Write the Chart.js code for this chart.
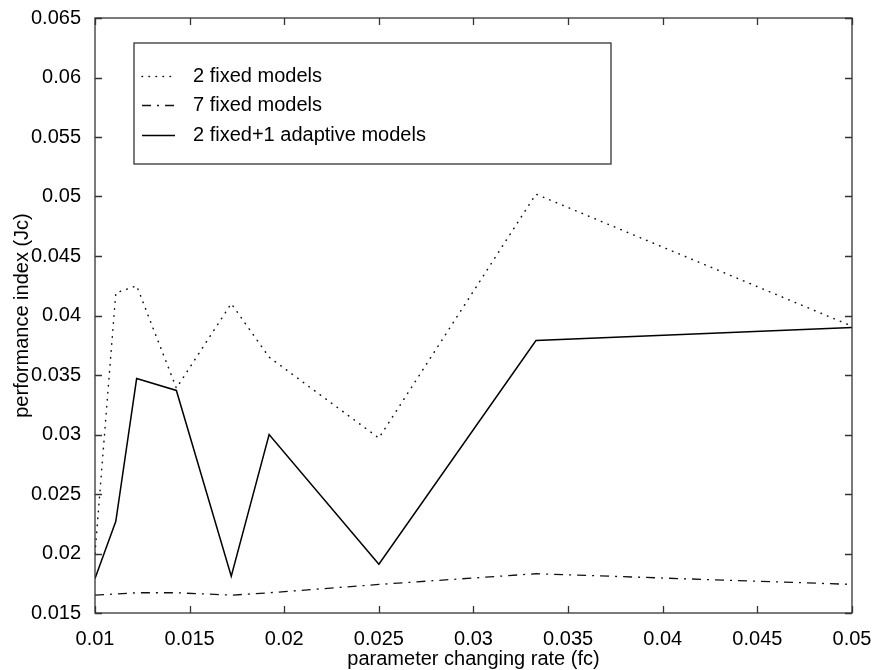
<!DOCTYPE html>
<html>
<head>
<meta charset="utf-8">
<script src="https://cdn.jsdelivr.net/npm/chart.js@4/dist/chart.umd.min.js"></script>
<style>
  html, body { margin: 0; padding: 0; background: #fff; }
  #wrap { width: 872px; height: 670px; }
</style>
</head>
<body>
<div id="wrap"><canvas id="c" width="872" height="670"></canvas></div>
<script>
// parameter changing rate (fc) at which each case was simulated
const rates = [0.01, 0.0111, 0.0122, 0.0143, 0.0172, 0.0192, 0.025, 0.0333, 0.05];

// performance index (Jc) per configuration
const twoFixed      = [0.0200, 0.0419, 0.0425, 0.0339, 0.0410, 0.0365, 0.0297, 0.0502, 0.0391];
const sevenFixed    = [0.0165, 0.0166, 0.0167, 0.0167, 0.0165, 0.0167, 0.0174, 0.0183, 0.0174];
const twoPlusAdapt  = [0.0179, 0.0227, 0.0347, 0.0337, 0.0181, 0.0300, 0.0191, 0.0379, 0.0390];

const seriesNames = ['2 fixed models', '7 fixed models', '2 fixed+1 adaptive models'];

// axis ticks
const xTicks = [0.01, 0.015, 0.02, 0.025, 0.03, 0.035, 0.04, 0.045, 0.05];
const yTicks = [0.015, 0.02, 0.025, 0.03, 0.035, 0.04, 0.045, 0.05, 0.055, 0.06, 0.065];

const FONT = "'Liberation Sans', Arial, Helvetica, sans-serif";
const pts = ys => rates.map((x, i) => ({ x, y: ys[i] }));
const fmt = v => String(Number(v.toFixed(3)));

// boxed frame with inward tick marks on all four sides
const framePlugin = {
  id: 'frame',
  afterDraw(chart) {
    const { ctx, chartArea: a, scales } = chart;
    const len = 7;
    ctx.save();
    ctx.strokeStyle = '#333';
    ctx.lineWidth = 1.3;
    ctx.strokeRect(a.left, a.top, a.right - a.left, a.bottom - a.top);
    ctx.beginPath();
    xTicks.forEach(v => {
      const px = Math.round(scales.x.getPixelForValue(v)) + 0.5;
      ctx.moveTo(px, a.bottom); ctx.lineTo(px, a.bottom - len);
      ctx.moveTo(px, a.top);    ctx.lineTo(px, a.top + len);
    });
    yTicks.forEach(v => {
      const py = Math.round(scales.y.getPixelForValue(v)) + 0.5;
      ctx.moveTo(a.left, py);  ctx.lineTo(a.left + len, py);
      ctx.moveTo(a.right, py); ctx.lineTo(a.right - len, py);
    });
    ctx.stroke();
    ctx.restore();
  }
};

// boxed legend in the upper left of the plot
const legendPlugin = {
  id: 'boxLegend',
  afterDraw(chart) {
    const { ctx } = chart;
    const box = { left: 134, top: 43, right: 611, bottom: 164 };
    const rowY = [76, 105, 135];
    ctx.save();
    ctx.fillStyle = '#fff';
    ctx.fillRect(box.left, box.top, box.right - box.left, box.bottom - box.top);
    ctx.strokeStyle = '#333';
    ctx.lineWidth = 1.3;
    ctx.strokeRect(box.left, box.top, box.right - box.left, box.bottom - box.top);
    chart.data.datasets.forEach((ds, i) => {
      const y = rowY[i] + 0.5;
      ctx.beginPath();
      ctx.setLineDash(ds.borderDash || []);
      ctx.lineCap = ds.borderCapStyle || 'butt';
      ctx.lineWidth = ds.borderWidth;
      ctx.strokeStyle = ds.borderColor;
      ctx.moveTo(142, y);
      ctx.lineTo(175, y);
      ctx.stroke();
      ctx.setLineDash([]);
      ctx.fillStyle = '#000';
      ctx.font = '20px ' + FONT;
      ctx.textBaseline = 'middle';
      ctx.textAlign = 'left';
      ctx.fillText(ds.label, 193, rowY[i]);
    });
    ctx.restore();
  }
};

new Chart(document.getElementById('c'), {
  type: 'line',
  data: {
    datasets: [
      {
        label: seriesNames[0],
        data: pts(twoFixed),
        borderColor: '#111',
        borderWidth: 1.5,
        borderDash: [0.5, 6.5],
        borderCapStyle: 'round',
        pointRadius: 0,
        tension: 0
      },
      {
        label: seriesNames[1],
        data: pts(sevenFixed),
        borderColor: '#111',
        borderWidth: 1.3,
        borderDash: [9, 6, 2, 6],
        pointRadius: 0,
        tension: 0
      },
      {
        label: seriesNames[2],
        data: pts(twoPlusAdapt),
        borderColor: '#000',
        borderWidth: 1.5,
        pointRadius: 0,
        tension: 0
      }
    ]
  },
  options: {
    responsive: false,
    animation: false,
    events: [],
    layout: { padding: { top: 18, right: 20, left: 0, bottom: 0 } },
    plugins: {
      legend: { display: false },
      tooltip: { enabled: false }
    },
    scales: {
      x: {
        type: 'linear',
        min: 0.01,
        max: 0.05,
        grid: { display: false },
        border: { display: false },
        afterBuildTicks: s => { s.ticks = xTicks.map(v => ({ value: v })); },
        afterFit: s => { s.height = 57; s.paddingLeft = 0; s.paddingRight = 0; },
        ticks: {
          color: '#000',
          font: { family: FONT, size: 20 },
          padding: 6,
          maxRotation: 0,
          autoSkip: false,
          callback: v => fmt(v)
        },
        title: {
          display: true,
          text: 'parameter changing rate (fc)',
          color: '#000',
          font: { family: FONT, size: 20, lineHeight: 1 },
          padding: { top: 0, bottom: 1 }
        }
      },
      y: {
        type: 'linear',
        min: 0.015,
        max: 0.065,
        grid: { display: false },
        border: { display: false },
        afterBuildTicks: s => { s.ticks = yTicks.map(v => ({ value: v })); },
        afterFit: s => { s.width = 95; s.paddingTop = 0; s.paddingBottom = 0; },
        ticks: {
          color: '#000',
          font: { family: FONT, size: 20 },
          padding: 6,
          autoSkip: false,
          callback: v => fmt(v)
        },
        title: {
          display: true,
          text: 'performance index (Jc)',
          color: '#000',
          font: { family: FONT, size: 20, lineHeight: 1.2 },
          padding: { top: 10, bottom: 0 }
        }
      }
    }
  },
  plugins: [framePlugin, legendPlugin]
});
</script>
</body>
</html>
